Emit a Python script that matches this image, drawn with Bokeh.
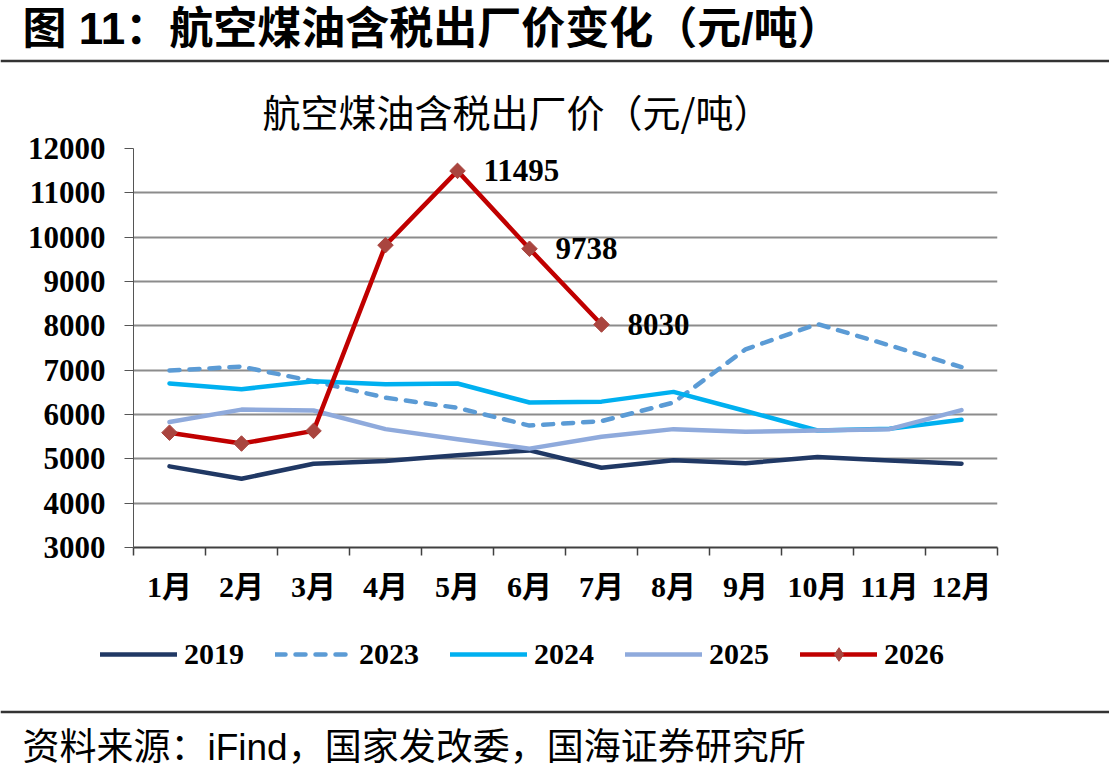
import numpy as np
from bokeh.plotting import figure
from bokeh.models import Range1d, FixedTicker, Legend, LegendItem
from bokeh.layouts import column
from bokeh.embed import file_html
from bokeh.resources import INLINE
from bokeh.core.properties import value

# ---- data (元/吨) ----
months = ["1月", "2月", "3月", "4月", "5月", "6月", "7月", "8月", "9月", "10月", "11月", "12月"]
month_no = list(range(1, 13))
s2019 = [4830, 4550, 4890, 4950, 5080, 5190, 4800, 4970, 4900, 5040, 4960, 4890]
s2023 = [6990, 7080, 6750, 6380, 6150, 5750, 5850, 6270, 7470, 8040, 7560, 7070]
s2024 = [6700, 6570, 6750, 6680, 6700, 6270, 6290, 6510, 6080, 5640, 5680, 5880]
s2025 = [5830, 6110, 6090, 5670, 5440, 5230, 5500, 5670, 5610, 5640, 5670, 6100]
s2026 = [5590, 5345, 5630, 9820, 11495, 9738, 8030]
series_names = ["2019", "2023", "2024", "2025", "2026"]
y_ticks = list(range(3000, 12001, 1000))

fig_title = "图 11：航空煤油含税出厂价变化（元/吨）"
chart_title = "航空煤油含税出厂价（元/吨）"
source_note = "资料来源：iFind，国家发改委，国海证券研究所"

# ---- styling ----
W = 1109
TOP_H, LEG_H, BOT_H = 66, 80, 74
MAIN_H = 779 - TOP_H - LEG_H - BOT_H
CJK = "Noto Sans CJK SC"
SANS = "Liberation Sans, Noto Sans CJK SC"
SERIF = "Liberation Serif, Noto Sans CJK SC"
RULE = "#333333"
colors = {"2019": "#203864", "2023": "#5B9BD5", "2024": "#00B0F0", "2025": "#8FAADC",
          "2026": "#C00000"}
MARKER_COLOR = "#A9453F"
line_kw = dict(line_width=4.5, line_join="round", line_cap="round")
dash_of = {"2023": "10 10"}
marker_style = dict(fill_color=MARKER_COLOR, line_color=MARKER_COLOR)


def strip(height):
    # a full-width strip whose data space is its own pixel grid (y grows downward)
    f = figure(width=W, height=height, x_range=Range1d(0, W), y_range=Range1d(height, 0),
               output_backend="svg", toolbar_location=None, min_border=0,
               x_axis_location=None, y_axis_location=None, frame_align=False)
    f.grid.visible = False
    f.outline_line_color = None
    return f


# ---- heading strip ----
top = strip(TOP_H)
top.text(x=[22], y=[28], text=[fig_title], text_font=value(SANS), text_font_size="44px",
         text_font_style="bold", text_baseline="middle", text_align="left", text_color="black")
top.segment(x0=[0], y0=[60.5], x1=[W], y1=[60.5], line_color=RULE, line_width=2.5)

# ---- main chart ----
FL, FR, FT, FB = 133, 112, 82, 78
p = figure(width=W, height=MAIN_H, x_range=Range1d(0.5, 12.5), y_range=Range1d(3000, 12000),
           output_backend="svg", toolbar_location=None, frame_align=False,
           min_border_left=FL, min_border_right=FR, min_border_top=FT, min_border_bottom=FB)
p.title.text = chart_title
p.title.align = "left"
p.title.offset = 129
p.title.vertical_align = "middle"
p.title.standoff = 19
p.title.text_font = CJK
p.title.text_font_size = "38px"
p.title.text_font_style = "normal"
p.title.text_color = "black"

p.outline_line_color = None
p.xgrid.visible = False
p.ygrid.grid_line_color = "#8c8c8c"
p.ygrid.grid_line_width = 2

p.yaxis.ticker = FixedTicker(ticks=y_ticks)
p.yaxis.major_label_text_font = SERIF
p.yaxis.major_label_text_font_style = "bold"
p.yaxis.major_label_text_font_size = "31px"
p.yaxis.major_label_text_color = "black"
p.yaxis.major_tick_out = 9
p.yaxis.major_tick_in = 0
p.yaxis.major_tick_line_color = "#555555"
p.yaxis.minor_tick_line_color = None
p.yaxis.axis_line_color = "#555555"
p.yaxis.major_label_standoff = 19

p.xaxis.ticker = FixedTicker(ticks=month_no, minor_ticks=[0.5 + i for i in range(13)])
p.xaxis.major_label_overrides = {n: m for n, m in zip(month_no, months)}
p.xaxis.major_tick_line_color = None
p.xaxis.major_tick_out = 0
p.xaxis.major_tick_in = 0
p.xaxis.minor_tick_out = 8
p.xaxis.minor_tick_in = 0
p.xaxis.minor_tick_line_color = "#404040"
p.xaxis.minor_tick_line_width = 1.5
p.xaxis.axis_line_color = "#404040"
p.xaxis.axis_line_width = 2
p.xaxis.major_label_text_font = SERIF
p.xaxis.major_label_text_font_style = "bold"
p.xaxis.major_label_text_font_size = "30px"
p.xaxis.major_label_text_color = "black"
p.xaxis.major_label_standoff = 14

series = {"2019": s2019, "2023": s2023, "2024": s2024, "2025": s2025, "2026": s2026}
for name, vals in series.items():
    xs = month_no[:len(vals)]
    p.line(xs, vals, line_color=colors[name], line_dash=dash_of.get(name, "solid"), **line_kw)
x2026 = month_no[:len(s2026)]
p.scatter(x2026, s2026, marker="square", angle=np.pi / 4, size=11, **marker_style)

# value labels on the latest points of 2026
p.text(x=x2026[4:], y=s2026[4:], text=[str(v) for v in s2026[4:]], x_offset=26,
       text_baseline="middle", text_align="left", text_font=value(SERIF),
       text_font_style="bold", text_font_size="31px", text_color="black")

# ---- legend strip (key glyphs share the chart's line styles) ----
leg = strip(LEG_H)
nan_pt = dict(x=np.array([np.nan]), y=np.array([np.nan]))
items = []
for name in series_names:
    rs = [leg.line(line_color=colors[name], line_dash=dash_of.get(name, "solid"),
                   **nan_pt, **line_kw)]
    if name == "2026":
        rs.append(leg.scatter(marker="diamond", size=22, **nan_pt, **marker_style))
    items.append(LegendItem(label=name, renderers=rs))
legend = Legend(items=items, orientation="horizontal", location=(100, 34))
legend.padding = 0
legend.margin = 0
legend.spacing = 31
legend.glyph_width = 77
legend.glyph_height = 34
legend.label_height = 34
legend.label_standoff = 7
legend.label_text_font = SERIF
legend.label_text_font_style = "bold"
legend.label_text_font_size = "30px"
legend.label_text_color = "black"
legend.border_line_color = None
legend.background_fill_alpha = 0
leg.add_layout(legend, "center")

# ---- source strip ----
bot = strip(BOT_H)
bot.segment(x0=[0], y0=[6.5], x1=[W], y1=[6.5], line_color=RULE, line_width=2.5)
bot.text(x=[22], y=[42], text=[source_note], text_font=value(SANS), text_font_size="37px",
         text_baseline="middle", text_align="left", text_color="black")

layout = column(top, p, leg, bot, spacing=0)
open("out.html", "w").write(file_html(layout, INLINE))
